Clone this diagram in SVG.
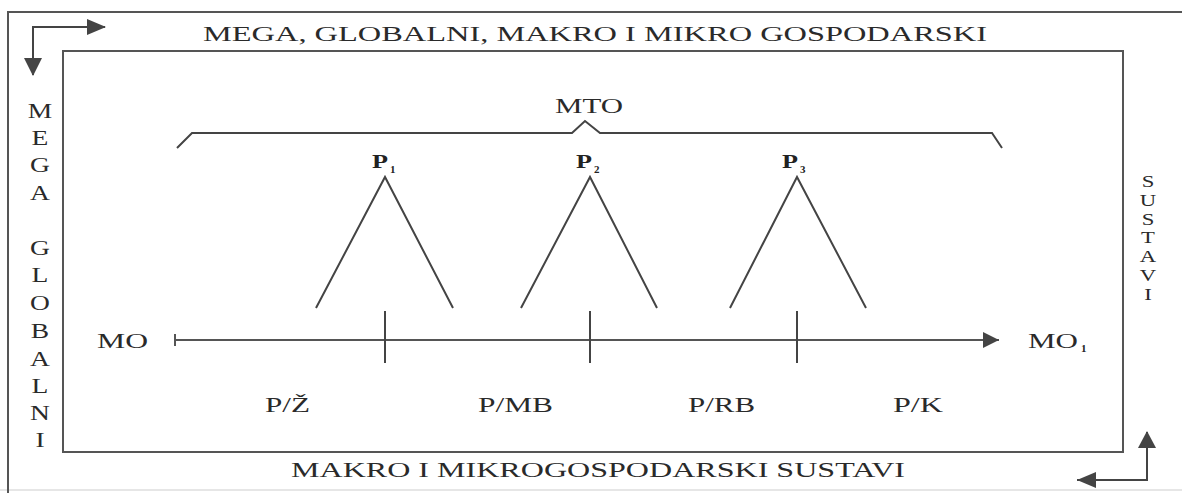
<svg xmlns="http://www.w3.org/2000/svg" width="1182" height="493" viewBox="0 0 1182 493">
<defs>
<marker id="ahb" viewBox="0 0 10 10" refX="10" refY="5" markerWidth="18" markerHeight="16" markerUnits="userSpaceOnUse" orient="auto"><path d="M0,0 L10,5 L0,10 Z" fill="#444"/></marker>
<style>
text{font-family:"Liberation Serif","Times New Roman",serif;fill:#2a2a2a}
.t{font-size:22px}
.v{font-size:22px;text-anchor:middle}
.r{font-size:16.8px;text-anchor:middle}
.p{font-size:19px;font-weight:bold;fill:#222}
.s{font-size:11px;font-weight:bold;fill:#222}
.l{fill:none;stroke:#444;stroke-width:2}
.ln{fill:none;stroke:#555;stroke-width:2}
</style>
</defs>
<rect width="1182" height="493" fill="#fff"/>
<g id="frame">
<path class="ln" d="M8,493 V12 H1182"/>
<path class="ln" d="M0,490 H1182" stroke-opacity="0.15"/>
<rect id="inner" class="ln" x="63" y="51" width="1060" height="401"/>
</g>
<g id="labels">
<text class="t" x="203" y="41" textLength="784" lengthAdjust="spacingAndGlyphs">MEGA, GLOBALNI, MAKRO I MIKRO GOSPODARSKI</text>
<text class="t" x="291" y="477" textLength="614" lengthAdjust="spacingAndGlyphs">MAKRO I MIKROGOSPODARSKI SUSTAVI</text>
<g id="left-vertical" transform="scale(1.25,1)">
<text class="v" x="32" y="118">M</text>
<text class="v" x="32" y="145">E</text>
<text class="v" x="32" y="172">G</text>
<text class="v" x="32" y="200">A</text>
<text class="v" x="32" y="255">G</text>
<text class="v" x="32" y="282">L</text>
<text class="v" x="32" y="310">O</text>
<text class="v" x="32" y="338">B</text>
<text class="v" x="32" y="366">A</text>
<text class="v" x="32" y="393">L</text>
<text class="v" x="32" y="420">N</text>
<text class="v" x="32" y="447">I</text>
</g>
<g id="right-vertical" transform="scale(1.35,1)">
<text class="r" x="850.4" y="187">S</text>
<text class="r" x="850.4" y="205.8">U</text>
<text class="r" x="850.4" y="224.6">S</text>
<text class="r" x="850.4" y="243.4">T</text>
<text class="r" x="850.4" y="262.2">A</text>
<text class="r" x="850.4" y="281">V</text>
<text class="r" x="850.4" y="299.8">I</text>
</g>
</g>
<g id="corner-arrows">
<path class="l" d="M33,75 V27 H105"/>
<path d="M24,58 L42,58 L33,76 Z" fill="#444"/>
<path d="M87,19 L106,27 L87,35 Z" fill="#444"/>
<path class="l" d="M1147,432 V480 H1077"/>
<path d="M1138,448 L1156,448 L1147,431 Z" fill="#444"/>
<path d="M1096,472 L1096,488 L1077,480 Z" fill="#444"/>
</g>
<g id="mto">
<text class="t" x="555" y="113" textLength="68" lengthAdjust="spacingAndGlyphs">MTO</text>
<path class="l" d="M177,148 L192,133 H572 L585,121 L600,133 H992 L1002,148" stroke-width="1.8"/>
</g>
<g id="p1">
<text class="p" x="372" y="168" textLength="16" lengthAdjust="spacingAndGlyphs">P</text><text class="s" x="390" y="173">1</text>
<path class="l" d="M316,308 L385,177 L453,308"/>
</g>
<g id="p2">
<text class="p" x="576" y="168" textLength="16" lengthAdjust="spacingAndGlyphs">P</text><text class="s" x="594" y="173">2</text>
<path class="l" d="M521,308 L590,177 L657,308"/>
</g>
<g id="p3">
<text class="p" x="782" y="168" textLength="16" lengthAdjust="spacingAndGlyphs">P</text><text class="s" x="800" y="173">3</text>
<path class="l" d="M730,308 L797,177 L866,308"/>
</g>
<g id="connectors">
<path class="ln" d="M175,340 H999" marker-end="url(#ahb)"/>
<path class="ln" d="M175,334 V346"/>
<path class="l" d="M385,311 V363"/>
<path class="l" d="M590,311 V363"/>
<path class="l" d="M797,311 V363"/>
</g>
<g id="axis-labels">
<text class="t" x="97" y="348" font-size="24" textLength="51" lengthAdjust="spacingAndGlyphs">MO</text>
<text class="t" x="1028" y="348" font-size="24" textLength="50" lengthAdjust="spacingAndGlyphs">MO</text><text class="s" x="1081" y="352" font-size="12" font-weight="normal">1</text>
<text class="t" x="265" y="412" textLength="45" lengthAdjust="spacingAndGlyphs">P/Ž</text>
<text class="t" x="478" y="412" textLength="75" lengthAdjust="spacingAndGlyphs">P/MB</text>
<text class="t" x="688" y="412" textLength="67" lengthAdjust="spacingAndGlyphs">P/RB</text>
<text class="t" x="893" y="412" textLength="50" lengthAdjust="spacingAndGlyphs">P/K</text>
</g>
</svg>
